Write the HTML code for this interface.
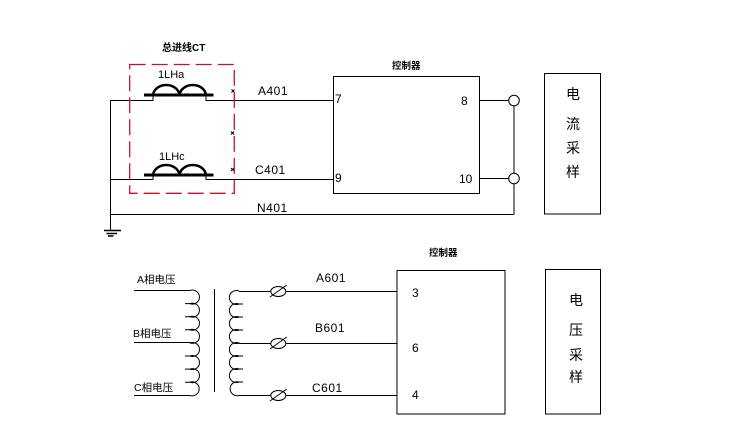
<!DOCTYPE html>
<html><head><meta charset="utf-8"><style>
html,body{margin:0;padding:0;background:#fff;}
svg{display:block;}
text{font-family:"Liberation Sans","Noto Sans CJK SC",sans-serif;fill:#000;}
.cj{font-family:"Liberation Sans","Noto Sans CJK SC",sans-serif;}
</style></head><body>
<svg width="730" height="439" viewBox="0 0 730 439" xmlns="http://www.w3.org/2000/svg">
<g fill="none" stroke="#000" stroke-width="1">
<!-- upper wires -->
<polyline points="110.5,230 110.5,100.5 153,100.5 153,95"/>
<polyline points="206,95 206,100.5 333.5,100.5"/>
<polyline points="110.5,179.5 153,179.5 153,175"/>
<polyline points="206,175 206,179.5 333.5,179.5"/>
<line x1="110.5" y1="214.5" x2="514" y2="214.5"/>
<!-- CT coils -->
<line x1="144" y1="95" x2="213.5" y2="95" stroke-width="3"/>
<path d="M153,95 A13.3,11 0 0 1 179.5,95 A13.3,11 0 0 1 206,95" stroke-width="2.5"/>
<line x1="144" y1="175" x2="213.5" y2="175" stroke-width="3"/>
<path d="M153,175 A13.3,11 0 0 1 179.5,175 A13.3,11 0 0 1 206,175" stroke-width="2.5"/>
<!-- ground -->
<line x1="104" y1="230.5" x2="121" y2="230.5" stroke-width="1.5"/>
<line x1="106.5" y1="233.5" x2="117" y2="233.5" stroke-width="1.5"/>
<line x1="108" y1="236" x2="113.5" y2="236" stroke-width="1.5"/>
<!-- x marks -->
<path d="M231.5,89.5 l3,3 M234.5,89.5 l-3,3"/>
<path d="M231,131.5 l3,3 M234,131.5 l-3,3"/>
<path d="M231,168 l3,3 M234,168 l-3,3"/>
<!-- upper controller -->
<rect x="333.5" y="76.5" width="146" height="117"/>
<line x1="479.5" y1="100.5" x2="508.7" y2="100.5"/>
<line x1="479.5" y1="178.5" x2="508.7" y2="178.5"/>
<line x1="514" y1="100.5" x2="514" y2="214.5"/>
<circle cx="514" cy="100.5" r="5.3" fill="#fff"/>
<circle cx="514" cy="178.5" r="5.3" fill="#fff"/>
<rect x="544.5" y="73.5" width="56" height="140.5"/>
<!-- lower: primary wires -->
<line x1="134" y1="290.5" x2="190" y2="290.5"/>
<line x1="134" y1="342.5" x2="190" y2="342.5"/>
<line x1="134" y1="395.5" x2="190" y2="395.5"/>
<!-- primary coil -->
<path d="M190,290.5 A7,7 0 1 1 190,303.6 A7,7 0 1 1 190,316.7 A7,7 0 1 1 190,329.8 A7,7 0 1 1 190,342.9 A7,7 0 1 1 190,356 A7,7 0 1 1 190,369.1 A7,7 0 1 1 190,382.2 A7,7 0 1 1 190,395.5"/>
<path d="M185,303.6 h6 M185,316.7 h6 M185,329.8 h6 M185,356 h6 M185,369.1 h6 M185,382.2 h6"/>
<!-- core -->
<line x1="214.5" y1="289" x2="214.5" y2="392"/>
<!-- secondary coil -->
<path d="M239,291 A7,7 0 1 0 239,304 A7,7 0 1 0 239,317 A7,7 0 1 0 239,330 A7,7 0 1 0 239,343 A7,7 0 1 0 239,356 A7,7 0 1 0 239,369 A7,7 0 1 0 239,382 A7,7 0 1 0 239,395.5"/>
<path d="M237,304 h6 M237,317 h6 M237,330 h6 M237,356 h6 M237,369 h6 M237,382 h6"/>
<!-- secondary wires -->
<line x1="239" y1="291.5" x2="397" y2="291.5"/>
<line x1="239" y1="343.5" x2="397" y2="343.5"/>
<line x1="239" y1="395.5" x2="397" y2="395.5"/>
<!-- terminals -->
<ellipse cx="278.3" cy="291.5" rx="7.5" ry="5" fill="#fff"/>
<line x1="270" y1="297" x2="286.7" y2="285"/>
<ellipse cx="278.3" cy="343.5" rx="7.5" ry="5" fill="#fff"/>
<line x1="270" y1="349" x2="286.7" y2="337"/>
<ellipse cx="278.3" cy="395.5" rx="7.5" ry="5" fill="#fff"/>
<line x1="270" y1="401" x2="286.7" y2="389"/>
<!-- lower controller -->
<rect x="397" y="270.5" width="108" height="143.5"/>
<rect x="545.5" y="269.5" width="55" height="144.5"/>
</g>
<!-- red dashed CT box -->
<rect x="129.7" y="64.5" width="104.6" height="128.8" fill="none" stroke="#d0102a" stroke-width="1.3" stroke-dasharray="16,6"/>

<!-- texts -->
<text x="162" y="51" font-size="10" class="cj" font-weight="bold">总进线CT</text>
<text x="158" y="78" font-size="11">1LHa</text>
<text x="159" y="160" font-size="11">1LHc</text>
<text x="258" y="95" font-size="12" letter-spacing="0.5">A401</text>
<text x="255" y="174" font-size="12" letter-spacing="0.5">C401</text>
<text x="257" y="212" font-size="12" letter-spacing="0.5">N401</text>
<text x="392" y="69" font-size="9.5" font-weight="bold" class="cj">控制器</text>
<text x="335" y="103" font-size="12">7</text>
<text x="335" y="182" font-size="12">9</text>
<text x="461" y="105" font-size="12">8</text>
<text x="459" y="183" font-size="12">10</text>
<g font-size="14" fill="#222" text-anchor="middle" class="cj">
<text x="573" y="99">电</text>
<text x="573" y="129">流</text>
<text x="573" y="153">采</text>
<text x="573" y="177">样</text>
<text x="576" y="305">电</text>
<text x="576" y="335">压</text>
<text x="576" y="360">采</text>
<text x="576" y="382">样</text>
</g>
<text x="429" y="256" font-size="9.5" font-weight="bold" class="cj">控制器</text>
<text x="137" y="283" font-size="10.5" class="cj">A相电压</text>
<text x="133" y="337" font-size="10.5" class="cj">B相电压</text>
<text x="134" y="391" font-size="10.5" class="cj">C相电压</text>
<text x="316" y="282" font-size="12" letter-spacing="0.5">A601</text>
<text x="315" y="332" font-size="12" letter-spacing="0.5">B601</text>
<text x="312" y="392" font-size="12" letter-spacing="0.5">C601</text>
<text x="412" y="297" font-size="12">3</text>
<text x="412" y="352" font-size="12">6</text>
<text x="412" y="399" font-size="12">4</text>
</svg>
</body></html>
